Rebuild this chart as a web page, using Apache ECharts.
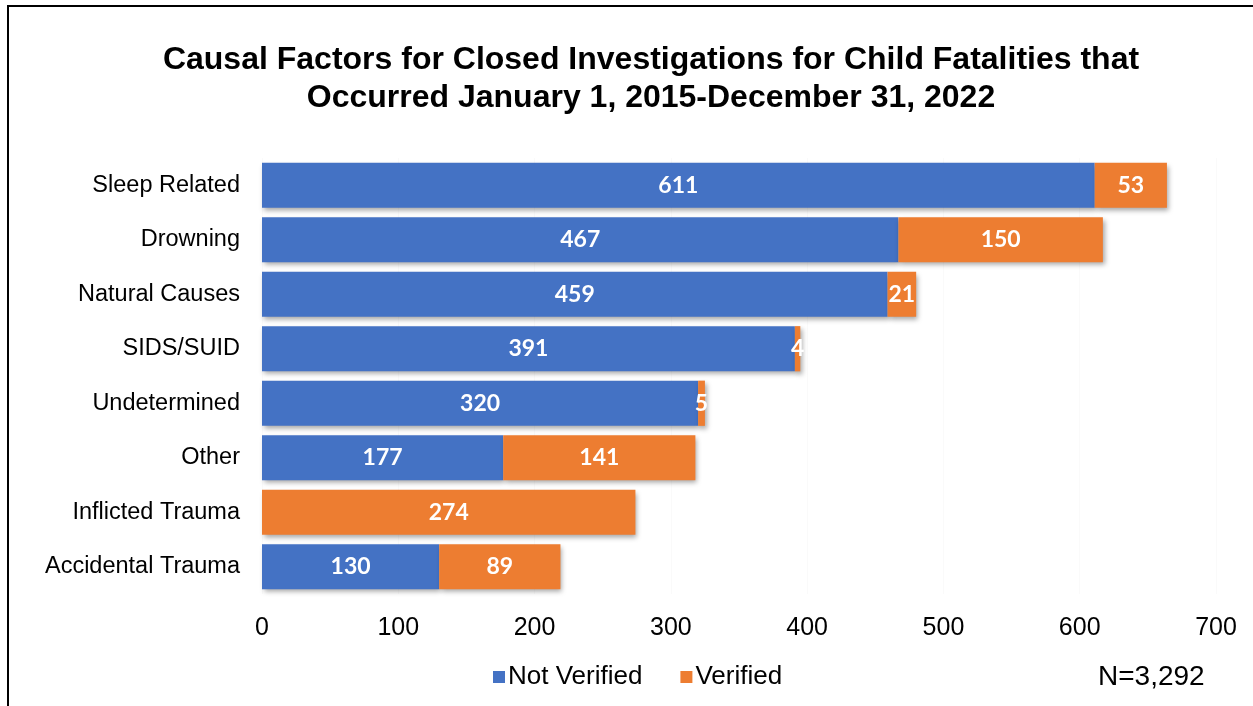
<!DOCTYPE html>
<html><head><meta charset="utf-8">
<script src="https://cdn.jsdelivr.net/npm/echarts@6/dist/echarts.min.js"></script>
<style>html,body{margin:0;padding:0;background:#fff}#c{width:1253px;height:706px}
#frame{position:absolute;left:7px;top:5px;width:1300px;height:800px;border:2px solid #000;box-sizing:border-box;pointer-events:none}</style>
</head><body><div id="c"></div><div id="frame"></div>
<script>
const categories = ["Sleep Related","Drowning","Natural Causes","SIDS/SUID","Undetermined","Other","Inflicted Trauma","Accidental Trauma"];
const notVerified = [611,467,459,391,320,177,0,130];
const verified = [53,150,21,4,5,141,274,89];
const xTicks = [0,100,200,300,400,500,600,700];
const titleText = "Causal Factors for Closed Investigations for Child Fatalities that\nOccurred January 1, 2015-December 31, 2022";
const noteText = "N=3,292";

const chart = echarts.init(document.getElementById('c'));
const shadow = {shadowColor:'rgba(0,0,0,0.35)',shadowBlur:5,shadowOffsetX:2,shadowOffsetY:3};
const lbl = {show:true,position:'inside',color:'#fff',fontFamily:'Lato, "Open Sans", sans-serif',fontWeight:'bold',fontSize:23,
  formatter:p=>p.value===0?'':p.value};
chart.setOption({
  animation:false,
  legend:{left:488,top:659,itemWidth:12,itemHeight:12,itemGap:38,icon:'rect',
    textStyle:{fontFamily:'"Liberation Sans", Arial, sans-serif',fontSize:26,color:'#000',padding:[0,0,0,-2]},
    data:['Not Verified','Verified']},
  graphic:[
    {type:'text',x:651,y:41,style:{text:titleText,textAlign:'center',font:'bold 32px "Liberation Sans", Arial, sans-serif',lineHeight:38,fill:'#000'}},
    {type:'text',left:1098,top:663,style:{text:noteText,font:'28px "Liberation Sans", Arial, sans-serif',fill:'#000'}}],
  grid:{left:262,top:158,width:954,height:436},
  xAxis:{type:'value',min:0,max:700,interval:100,
    axisLabel:{fontFamily:'"Liberation Sans", Arial, sans-serif',fontSize:25,color:'#000',margin:22,formatter:v=>xTicks.includes(v)?String(v):''},
    splitLine:{show:true,lineStyle:{color:'#fafafa'}},axisLine:{show:false},axisTick:{show:false}},
  yAxis:{type:'category',data:categories,inverse:true,
    axisLabel:{fontFamily:'"Liberation Sans", Arial, sans-serif',fontSize:23.5,color:'#000',margin:22},
    axisLine:{show:false},axisTick:{show:false}},
  series:[
    {name:'Not Verified',type:'bar',stack:'a',data:notVerified,barCategoryGap:'17%',itemStyle:Object.assign({color:'#4472C4'},shadow),label:lbl},
    {name:'Verified',type:'bar',stack:'a',data:verified,itemStyle:Object.assign({color:'#ED7D31'},shadow),label:lbl}
  ]
});
</script></body></html>
